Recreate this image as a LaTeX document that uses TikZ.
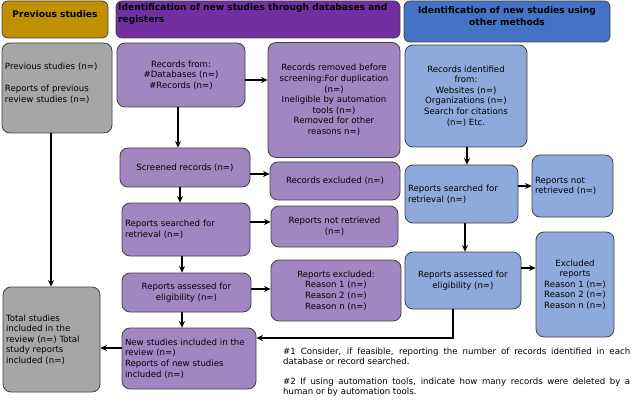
\documentclass[tikz,border=0pt]{standalone}
\usepackage{fontspec}
\setmainfont{DejaVu Sans}
\usetikzlibrary{arrows.meta,positioning}
\definecolor{gold}{HTML}{BF9000}
\definecolor{dpurple}{HTML}{7030A0}
\definecolor{dblue}{HTML}{4472C4}
\definecolor{lpurple}{HTML}{A087C2}
\definecolor{lblue}{HTML}{8EA9DB}
\definecolor{lgray}{HTML}{A6A6A6}
\definecolor{bordc}{HTML}{404040}
\newcommand{\boxfont}{\fontsize{8.6}{10.6}\selectfont}
\newcommand{\headfont}{\fontsize{9.1}{12}\selectfont\bfseries}
\begin{document}
\begin{tikzpicture}[x=1pt,y=-1pt,
  box/.style={draw=bordc, line width=0.8pt, rounded corners=8pt, font=\boxfont, align=center, inner sep=3pt},
  pbox/.style={box, fill=lpurple},
  bbox/.style={box, fill=lblue},
  gbox/.style={box, fill=lgray},
  sz/.style 2 args={minimum width=#1, minimum height=#2},
  lft/.style={align=left, text width=#1},
  head/.style={draw=bordc, line width=0.8pt, rounded corners=6pt},
  htext/.style={font=\headfont, text=black, inner sep=0pt},
  arr/.style={-{Stealth[length=6.5pt,width=6pt]}, line width=1.3pt, black},
  note/.style={font=\fontsize{8.6}{10}\selectfont, align=justify, text width=347pt, inner sep=0pt, anchor=north west}
]
\useasboundingbox (0,0) rectangle (633,412);

% headers
\node[head, fill=gold, sz={106pt}{37pt}] (hprev) at (55,19.5) {};
\node[htext, align=center] (hprevt) at (55,14) {Previous studies};
\node[head, fill=dpurple, sz={284pt}{37pt}] (hdb) at (258,19.5) {};
\node[htext, align=left, anchor=north west] (hdbt) at (118,3) {Identification of new studies through databases and\\registers};
\node[head, fill=dblue, sz={206pt}{41pt}] (hoth) at (507,21.5) {};
\node[htext, align=center] (hotht) at (507,16) {Identification of new studies using\\other methods};

% previous studies column
\node[gbox, sz={110pt}{90pt}, lft={104pt}] (prev) at (57,88) {Previous studies (n=)\\[11pt]Reports of previous\\review studies (n=)\\\mbox{}};
\node[gbox, sz={97pt}{105pt}, lft={91pt}] (total) at (51.5,339.5) {Total studies\\included in the\\review (n=) Total\\study reports\\included (n=)};

% databases column
\node[pbox, sz={128pt}{64pt}] (rec) at (181,75) {Records from:\\\#Databases (n=)\\\#Records (n=)};
\node[pbox, sz={132pt}{115pt}] (removed) at (334,100) {Records removed before\\screening:For duplication\\(n=)\\Ineligible by automation\\tools (n=)\\Removed for other\\reasons n=)};
\node[pbox, sz={130pt}{39pt}] (screened) at (185,167.5) {Screened records (n=)};
\node[pbox, sz={130pt}{38pt}] (excl) at (335,181) {Records excluded (n=)};
\node[pbox, sz={128pt}{53pt}, lft={122pt}] (rsearch) at (186,229.5) {Reports searched for\\retrieval (n=)};
\node[pbox, sz={127pt}{41pt}] (rnot) at (334.5,226.5) {Reports not retrieved\\(n=)};
\node[pbox, sz={129pt}{39pt}] (rassess) at (186.5,292.5) {Reports assessed for\\eligibility (n=)};
\node[pbox, sz={130pt}{61pt}] (rexcl) at (336,290.5) {Reports excluded:\\Reason 1 (n=)\\Reason 2 (n=)\\Reason n (n=)};
\node[pbox, sz={134pt}{61pt}, lft={128pt}] (newinc) at (189,358.5) {New studies included in the\\review (n=)\\Reports of new studies\\included (n=)};

% other methods column
\node[bbox, sz={122pt}{102pt}] (brec) at (466,96) {Records identified\\from:\\Websites (n=)\\Organizations (n=)\\Search for citations\\(n=) Etc.};
\node[bbox, sz={113pt}{58pt}, lft={107pt}] (bsearch) at (461.5,194) {Reports searched for\\retrieval (n=)};
\node[bbox, sz={81pt}{62pt}, lft={75pt}] (bnot) at (572.5,186) {Reports not\\retrieved (n=)};
\node[bbox, sz={116pt}{57pt}] (bassess) at (463,280.5) {Reports assessed for\\eligibility (n=)};
\node[bbox, sz={78pt}{105pt}] (bexcl) at (575,284.5) {Excluded\\reports\\Reason 1 (n=)\\Reason 2 (n=)\\Reason n (n=)};

% notes
\node[note] (notes) at (283,348) {\#1 Consider, if feasible, reporting the number of records identified in each\linebreak database or record searched.\par\vspace{10pt}\#2 If using automation tools, indicate how many records were deleted by a\linebreak human or by automation tools.};

% arrows
\draw[arr] (prev.south -| 51,0) -- (total.north -| 51,0);
\draw[arr] (rec.south -| 178,0) -- (screened.north -| 178,0);
\draw[arr] (rec.east |- 0,80) -- (removed.west |- 0,80);
\draw[arr] (screened.east |- 0,174) -- (excl.west |- 0,174);
\draw[arr] (screened.south -| 180,0) -- (rsearch.north -| 180,0);
\draw[arr] (rsearch.east |- 0,222) -- (rnot.west |- 0,222);
\draw[arr] (rsearch.south -| 182,0) -- (rassess.north -| 182,0);
\draw[arr] (rassess.east |- 0,289) -- (rexcl.west |- 0,289);
\draw[arr] (rassess.south -| 182,0) -- (newinc.north -| 182,0);
\draw[arr] (newinc.west |- 0,348) -- (total.east |- 0,348);
\draw[arr] (brec.south -| 467,0) -- (bsearch.north -| 467,0);
\draw[arr] (bsearch.east |- 0,186) -- (bnot.west |- 0,186);
\draw[arr] (bsearch.south -| 465,0) -- (bassess.north -| 465,0);
\draw[arr] (bassess.east |- 0,268) -- (bexcl.west |- 0,268);
\coordinate (bend) at (453,338);
\draw[arr] (bassess.south -| bend) |- (newinc.east |- bend);
\end{tikzpicture}
\end{document}
